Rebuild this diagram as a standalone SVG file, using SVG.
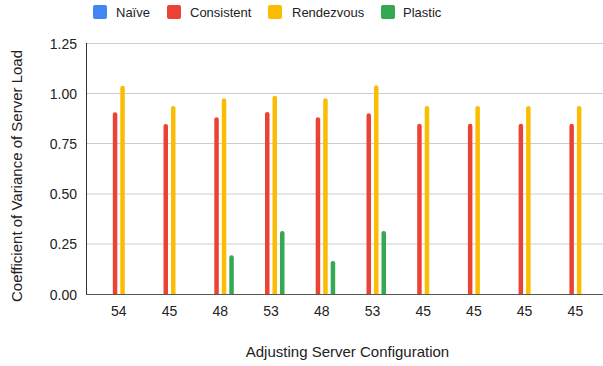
<svg xmlns="http://www.w3.org/2000/svg" width="603" height="366" viewBox="0 0 603 366">
  <style>
    text { font-family: "Liberation Sans", Arial, sans-serif; fill: #222; }
    .tick { font-size: 14px; }
    .ytick { text-anchor: end; }
    .xtick { text-anchor: middle; }
    .title { font-size: 15px; text-anchor: middle; }
    .legend { font-size: 13px; }
    .grid { stroke: #cccccc; stroke-width: 1; }
    .consistent { fill: #ea4335; }
    .rendezvous { fill: #fbbc04; }
    .plastic { fill: #34a853; }
    .naive { fill: #4285f4; }
  </style>

  <rect width="603" height="366" fill="#ffffff"/>

  <!-- legend -->
  <g id="legend">
    <rect class="naive" x="93" y="5" width="14" height="14" rx="2"/>
    <text class="legend" x="116" y="17">Naïve</text>
    <rect class="consistent" x="167" y="5" width="14" height="14" rx="2"/>
    <text class="legend" x="190" y="17">Consistent</text>
    <rect class="rendezvous" x="268" y="5" width="14" height="14" rx="2"/>
    <text class="legend" x="292" y="17">Rendezvous</text>
    <rect class="plastic" x="381" y="5" width="14" height="14" rx="2"/>
    <text class="legend" x="403" y="17">Plastic</text>
  </g>

  <!-- gridlines and y ticks -->
  <g id="y-axis">
    <line class="grid" x1="86" y1="43.5" x2="603" y2="43.5"/>
    <line class="grid" x1="86" y1="93.5" x2="603" y2="93.5"/>
    <line class="grid" x1="86" y1="143.5" x2="603" y2="143.5"/>
    <line class="grid" x1="86" y1="194" x2="603" y2="194"/>
    <line class="grid" x1="86" y1="244" x2="603" y2="244"/>
    <text class="tick ytick" x="77" y="48.5">1.25</text>
    <text class="tick ytick" x="77" y="98.5">1.00</text>
    <text class="tick ytick" x="77" y="148.5">0.75</text>
    <text class="tick ytick" x="77" y="199">0.50</text>
    <text class="tick ytick" x="77" y="249">0.25</text>
    <text class="tick ytick" x="77" y="299.5">0.00</text>
    <text class="title" transform="translate(22,176) rotate(-90)">Coefficient of Variance of Server Load</text>
  </g>

  <!-- bars: consistent at -3.75, rendezvous at +3.75, plastic at +11.25 -->
  <g id="cat-1" transform="translate(118.8,0)">
    <path class="consistent" d="M-6,294V114.5a2.25,2.25 0 0 1 4.5,0V294Z"/>
    <path class="rendezvous" d="M1.5,294V88a2.25,2.25 0 0 1 4.5,0V294Z"/>
    <text class="tick xtick" x="0" y="316">54</text>
  </g>
  <g id="cat-2" transform="translate(169.5,0)">
    <path class="consistent" d="M-6,294V126.2a2.25,2.25 0 0 1 4.5,0V294Z"/>
    <path class="rendezvous" d="M1.5,294V108.2a2.25,2.25 0 0 1 4.5,0V294Z"/>
    <text class="tick xtick" x="0" y="316">45</text>
  </g>
  <g id="cat-3" transform="translate(220.3,0)">
    <path class="consistent" d="M-6,294V119.5a2.25,2.25 0 0 1 4.5,0V294Z"/>
    <path class="rendezvous" d="M1.5,294V100.5a2.25,2.25 0 0 1 4.5,0V294Z"/>
    <path class="plastic" d="M9,294V257.5a2.25,2.25 0 0 1 4.5,0V294Z"/>
    <text class="tick xtick" x="0" y="316">48</text>
  </g>
  <g id="cat-4" transform="translate(271,0)">
    <path class="consistent" d="M-6,294V114.2a2.25,2.25 0 0 1 4.5,0V294Z"/>
    <path class="rendezvous" d="M1.5,294V97.9a2.25,2.25 0 0 1 4.5,0V294Z"/>
    <path class="plastic" d="M9,294V233.2a2.25,2.25 0 0 1 4.5,0V294Z"/>
    <text class="tick xtick" x="0" y="316">53</text>
  </g>
  <g id="cat-5" transform="translate(321.7,0)">
    <path class="consistent" d="M-6,294V119.5a2.25,2.25 0 0 1 4.5,0V294Z"/>
    <path class="rendezvous" d="M1.5,294V100.5a2.25,2.25 0 0 1 4.5,0V294Z"/>
    <path class="plastic" d="M9,294V263.2a2.25,2.25 0 0 1 4.5,0V294Z"/>
    <text class="tick xtick" x="0" y="316">48</text>
  </g>
  <g id="cat-6" transform="translate(372.5,0)">
    <path class="consistent" d="M-6,294V115.5a2.25,2.25 0 0 1 4.5,0V294Z"/>
    <path class="rendezvous" d="M1.5,294V87.5a2.25,2.25 0 0 1 4.5,0V294Z"/>
    <path class="plastic" d="M9,294V233.2a2.25,2.25 0 0 1 4.5,0V294Z"/>
    <text class="tick xtick" x="0" y="316">53</text>
  </g>
  <g id="cat-7" transform="translate(423.2,0)">
    <path class="consistent" d="M-6,294V125.9a2.25,2.25 0 0 1 4.5,0V294Z"/>
    <path class="rendezvous" d="M1.5,294V108.2a2.25,2.25 0 0 1 4.5,0V294Z"/>
    <text class="tick xtick" x="0" y="316">45</text>
  </g>
  <g id="cat-8" transform="translate(473.9,0)">
    <path class="consistent" d="M-6,294V125.9a2.25,2.25 0 0 1 4.5,0V294Z"/>
    <path class="rendezvous" d="M1.5,294V108.2a2.25,2.25 0 0 1 4.5,0V294Z"/>
    <text class="tick xtick" x="0" y="316">45</text>
  </g>
  <g id="cat-9" transform="translate(524.6,0)">
    <path class="consistent" d="M-6,294V125.9a2.25,2.25 0 0 1 4.5,0V294Z"/>
    <path class="rendezvous" d="M1.5,294V108.2a2.25,2.25 0 0 1 4.5,0V294Z"/>
    <text class="tick xtick" x="0" y="316">45</text>
  </g>
  <g id="cat-10" transform="translate(575.4,0)">
    <path class="consistent" d="M-6,294V125.9a2.25,2.25 0 0 1 4.5,0V294Z"/>
    <path class="rendezvous" d="M1.5,294V108.2a2.25,2.25 0 0 1 4.5,0V294Z"/>
    <text class="tick xtick" x="0" y="316">45</text>
  </g>

  <!-- axis lines -->
  <g id="axes">
    <line x1="86.5" y1="43" x2="86.5" y2="294.5" stroke="#333333" stroke-width="1"/>
    <line x1="86" y1="294.5" x2="603" y2="294.5" stroke="#555555" stroke-width="1"/>
  </g>

  <text class="title" x="347.5" y="357">Adjusting Server Configuration</text>
</svg>
